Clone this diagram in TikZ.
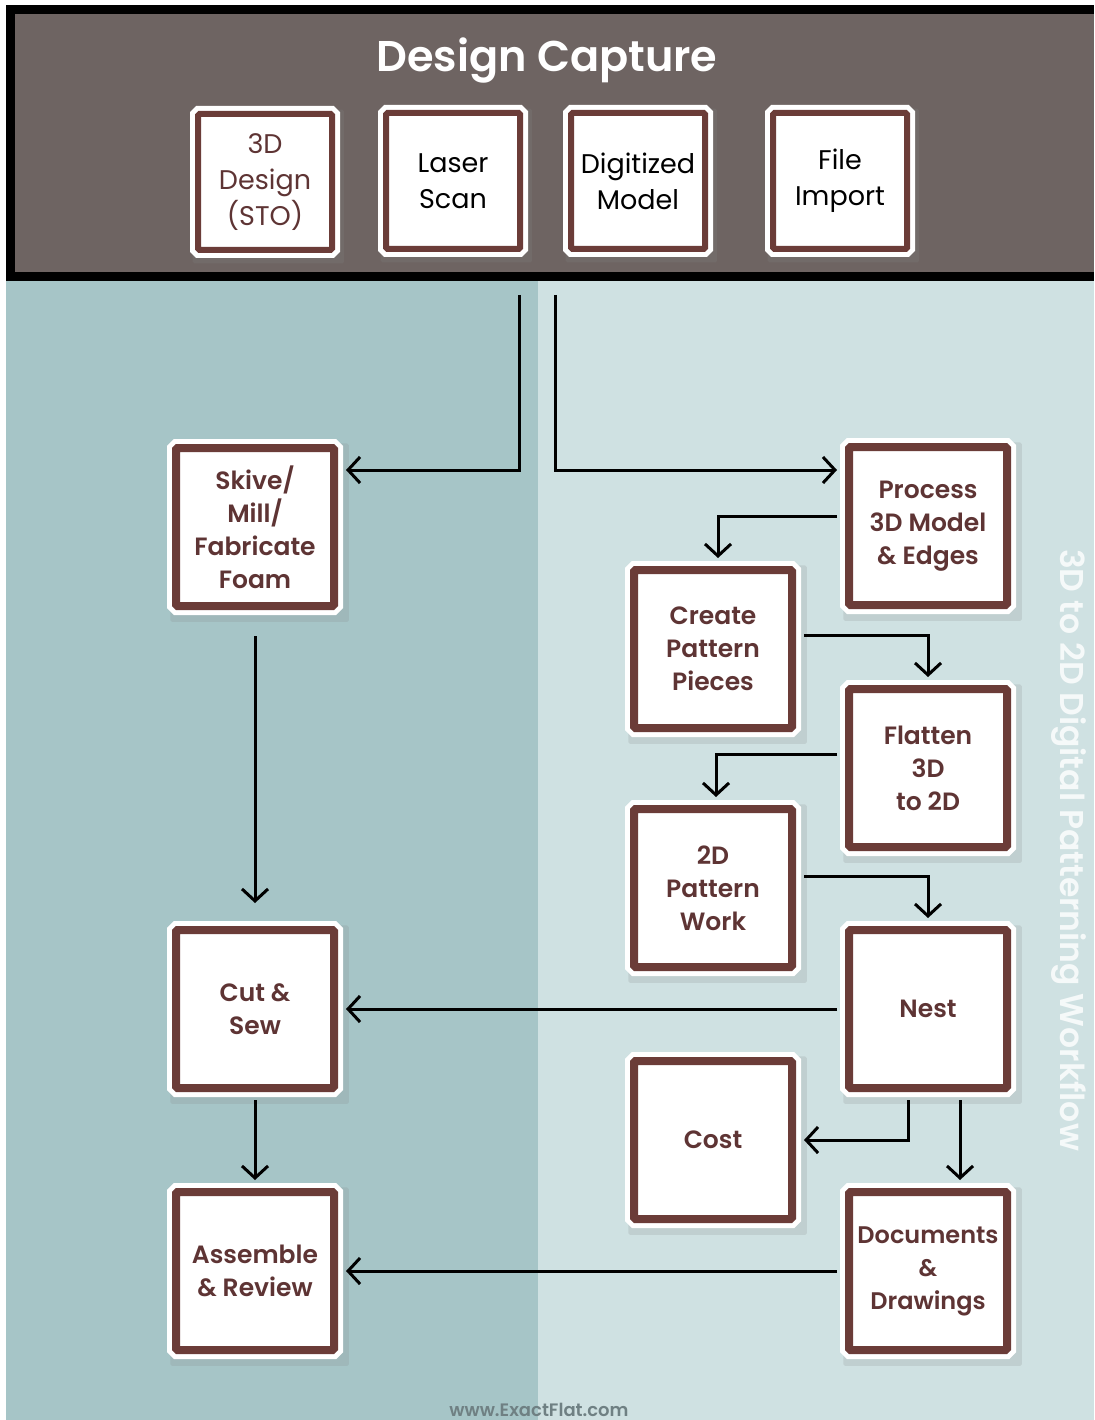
\documentclass[tikz,border=0pt]{standalone}
\usepackage{fontspec}
\setmainfont{Poppins}[BoldFont={Poppins SemiBold}]
\usepackage{xcolor}
\usetikzlibrary{arrows.meta,calc,shadows}
\definecolor{capgray}{RGB}{110,100,98}
\definecolor{laneL}{RGB}{166,197,199}
\definecolor{laneR}{RGB}{207,225,226}
\definecolor{frame}{RGB}{107,60,56}
\definecolor{ink}{RGB}{94,52,52}
\definecolor{footgray}{RGB}{111,128,131}

\begin{document}
\begin{tikzpicture}[x=1pt, y=-1pt,
  box/.style={fill=white, draw=frame, line width=8pt, rounded corners=1.5pt,
    minimum width=158pt, minimum height=158pt, inner sep=0pt, outer sep=12pt, align=center,
    text=ink, font=\fontsize{25}{33}\selectfont\bfseries,
    drop shadow={shadow xshift=4pt, shadow yshift=-5pt, shadow scale=1.13, opacity=0.18},
    preaction={draw=white, line width=18pt}},
  src/.style={fill=white, draw=frame, line width=6pt, rounded corners=1.5pt,
    minimum width=134pt, minimum height=136pt, inner sep=0pt, align=center,
    text=black, font=\fontsize{27}{36}\selectfont,
    drop shadow={shadow xshift=3pt, shadow yshift=-4pt, shadow scale=1.13, opacity=0.25},
    preaction={draw=white, line width=16pt}},
  arr/.style={-{Straight Barb[length=12pt, width=26pt]}, line width=3pt}]
  \useasboundingbox (0,0) rectangle (1094,1420);
  \fill[white] (0,0) rectangle (1094,1420);
  \fill[laneL] (6,281) rectangle (538,1420);
  \fill[laneR] (538,281) rectangle (1094,1420);
  \fill[black] (6,5) rectangle (1094,281);
  \fill[capgray] (15,14) rectangle (1094,272);
  \node[font=\fontsize{43}{43}\selectfont\bfseries, text=white, anchor=base] (capture) at (547,72) {Design Capture};
  \node[src, text=ink] (design) at (265,182) {3D\\Design\\(STO)};
  \node[src] (laser) at (453,181) {Laser\\Scan};
  \node[src] (digit) at (638,181) {Digitized\\Model};
  \node[src] (import) at (840,181) {File\\Import};
  \node[box] (skive) at (255,527) {Skive/\\Mill/\\Fabricate\\Foam};
  \node[box] (process) at (928,526) {Process\\3D Model\\\& Edges};
  \node[box] (create) at (713,649) {Create\\Pattern\\Pieces};
  \node[box] (flatten) at (928,768) {Flatten\\3D\\to 2D};
  \node[box] (work) at (713,888) {2D\\Pattern\\Work};
  \node[box] (nest) at (928,1009) {Nest};
  \node[box] (cost) at (713,1140) {Cost};
  \node[box, font=\fontsize{24}{33}\selectfont\bfseries] (docs) at (928,1271) {Documents\\\&\\Drawings};
  \node[box] (cutsew) at (255,1009) {Cut \&\\Sew};
  \node[box] (assemble) at (255,1271) {Assemble\\\& Review};
  \node[rotate=-90, text=white, text opacity=0.8, font=\fontsize{33}{33}\selectfont\bfseries] (side) at (1069,850) {3D to 2D Digital Patterning Workflow};
  \node[text=footgray, font=\fontsize{18}{18}\selectfont\bfseries, anchor=base] (site) at (539,1416) {www.ExactFlat.com};
  \coordinate (forkL) at (519,295);
  \coordinate (forkR) at (555,295);
  \draw[arr] (forkL) |- ([yshift=57pt]skive.east);
  \draw[arr] (forkR) |- ([yshift=56pt]process.west);
  \draw[arr] ([yshift=10pt]process.west) -| ([xshift=5pt]create.north);
  \draw[arr] ([yshift=14pt]create.east) -| (flatten.north);
  \draw[arr] ([yshift=14pt]flatten.west) -| ([xshift=3pt]work.north);
  \draw[arr] ([yshift=12pt]work.east) -| (nest.north);
  \draw[arr] (nest) -- (cutsew);
  \draw[arr] ([xshift=-20pt]nest.south) |- (cost.east);
  \draw[arr] ([xshift=32pt]nest.south) -- ([xshift=32pt]docs.north);
  \draw[arr] (docs) -- (assemble);
  \draw[arr, shorten <=18pt, shorten >=15pt] (skive) -- (cutsew);
  \draw[arr] (cutsew) -- (assemble);
\end{tikzpicture}
\end{document}
